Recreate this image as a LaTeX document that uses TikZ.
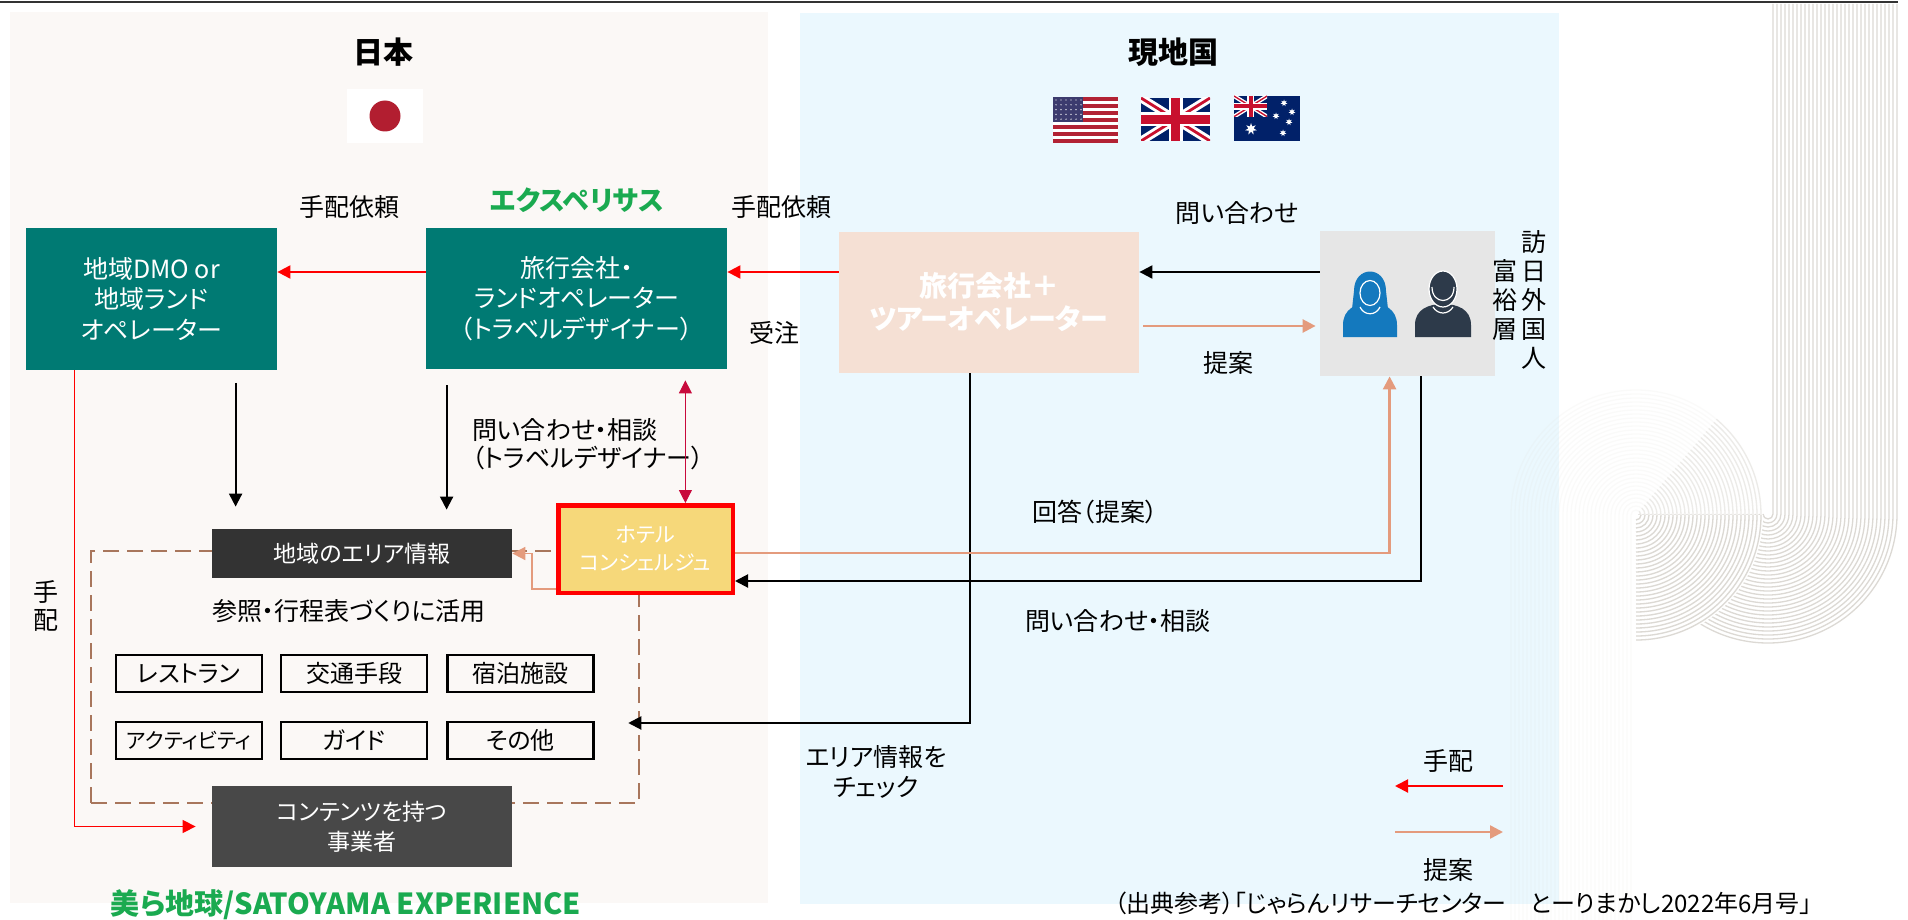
\documentclass[tikz,border=0pt]{standalone}
\usepackage{fontspec}
\setmainfont{Noto Sans CJK JP}[CharacterWidth=AlternateProportional]
\usetikzlibrary{calc, arrows.meta, shapes.geometric}

\definecolor{jpbg}{RGB}{251,248,246}
\definecolor{localbg}{RGB}{235,248,254}
\definecolor{dmoteal}{RGB}{0,122,115}
\definecolor{peach}{RGB}{245,224,212}
\definecolor{guestgray}{RGB}{230,230,230}
\definecolor{hotelyel}{RGB}{246,216,122}
\definecolor{infodark}{RGB}{51,51,51}
\definecolor{contentdark}{RGB}{72,72,72}
\definecolor{salmon}{RGB}{228,155,125}
\definecolor{poolbrown}{RGB}{168,118,92}
\definecolor{crimson}{RGB}{200,10,60}
\definecolor{leafgreen}{RGB}{26,170,80}
\definecolor{jpred}{RGB}{178,30,48}
\definecolor{usred}{RGB}{178,34,52}
\definecolor{usblue}{RGB}{60,59,110}
\definecolor{ukblue}{RGB}{1,33,105}
\definecolor{ukred}{RGB}{200,16,46}
\definecolor{ladyblue}{RGB}{20,121,190}
\definecolor{mandark}{RGB}{45,58,74}
\definecolor{curl}{RGB}{220,217,212}

\begin{document}
\begin{tikzpicture}[x=0.5pt, y=-0.5pt,
                >={Triangle[length=6.5pt, width=6.5pt]},
                box/.style = {
                    rectangle, inner sep=0pt,
                    align=center, text=white,
                    font=\fontsize{12.5}{15.25}\selectfont
                },
                tealbox/.style = {
                    box, fill=dmoteal,
                    minimum height=70.5pt
                },
                tag/.style = {
                    rectangle, draw=black,
                    line width=1.25pt, inner sep=0pt,
                    minimum width=73pt, minimum height=18.5pt,
                    font=\fontsize{12}{14}\selectfont
                },
                pool/.style = {
                    rectangle, draw=poolbrown,
                    line width=1.25pt, dash pattern=on 8pt off 4pt,
                    minimum width=274pt, minimum height=126pt
                },
                lbl/.style = {
                    inner sep=0pt, align=center,
                    font=\fontsize{12.5}{15}\selectfont
                },
                title/.style = {
                    inner sep=0pt,
                    font=\fontsize{15}{18}\selectfont\bfseries
                },
                brand/.style = {
                    inner sep=0pt, text=leafgreen,
                    font=\fontsize{13.5}{16}\selectfont\bfseries
                },
                austar/.style = {
                    star, star points=7, star point ratio=2.2,
                    fill=white, inner sep=0pt, minimum size=3.5pt
                },
                hand/.style = {draw=red, line width=1pt, ->},
                prop/.style = {draw=salmon, line width=1.25pt, ->},
                ask/.style = {draw=black, line width=1pt, ->},
                pics/jack/.style = {code={
                    \fill[ukblue] (0,0) rectangle (69*#1,43*#1);
                    \clip (0,0) rectangle (69*#1,43*#1);
                    \draw[white, line width=#1*4.3pt] (0,0) -- (69*#1,43*#1) (0,43*#1) -- (69*#1,0);
                    \draw[ukred, line width=#1*1.4pt] (0,0) -- (69*#1,43*#1) (0,43*#1) -- (69*#1,0);
                    \draw[white, line width=#1*7pt] (34.5*#1,0) -- (34.5*#1,43*#1) (0,21.5*#1) -- (69*#1,21.5*#1);
                    \draw[ukred, line width=#1*4.3pt] (34.5*#1,0) -- (34.5*#1,43*#1) (0,21.5*#1) -- (69*#1,21.5*#1);
                }},
                pics/lady/.style = {code={
                    \fill[ladyblue] (-27,34) -- (-27,22) .. controls (-27,6) and (-14,0) .. (0,0)
                        .. controls (14,0) and (27,6) .. (27,22) -- (27,34) -- cycle;
                    \fill[ladyblue] (-16,-12) .. controls (-16,-38) and (16,-38) .. (16,-12)
                        -- (18,6) -- (-18,6) -- cycle;
                    \filldraw[fill=ladyblue, draw=white, line width=.6pt] (0,-10) ellipse (10 and 12.5);
                    \draw[white, line width=.6pt] (-10,4) .. controls (-6,13) and (6,13) .. (10,4);
                }},
                pics/gent/.style = {code={
                    \fill[mandark] (-28,34) -- (-28,22) .. controls (-28,6) and (-14,1) .. (0,1)
                        .. controls (14,1) and (28,6) .. (28,22) -- (28,34) -- cycle;
                    \filldraw[fill=mandark, draw=white, line width=.6pt] (0,-14) ellipse (14 and 18);
                    \draw[white, line width=.6pt] (-11,-16) .. controls (-11,2) and (11,2) .. (11,-16);
                    \draw[white, line width=.6pt] (-10,4) .. controls (-5,12) and (5,12) .. (10,4);
                }}
                ]

                \useasboundingbox (0,0) rectangle (1908,920);
                \fill[white] (0,0) rectangle (1908,920);

                % the two halves
                \fill[jpbg] (10,12) rectangle (768,903);
                \fill[localbg] (800,13) rectangle (1559,904);
                \draw[black!80, line width=1pt] (0,2) -- (1898,2);

                % wave ornament
                \foreach \r in {5,9,...,129}
                    \draw[curl, line width=.65pt] (1768+\r,4) -- (1768+\r,514) arc (0:180:\r);
                \fill[white] (1636,515) -- (1763,515) arc (0:90:127) -- cycle;
                \foreach \r in {5,9,...,125} {
                    \draw[curl, line width=.65pt, draw opacity=.12] (1636,515+\r) arc (90:-180:\r) -- (1636-\r,920);
                    \draw[curl, line width=.65pt] (1636,515+\r) arc (90:0:\r);
                    \draw[curl, line width=.65pt, draw opacity=.45] (1636+\r,515) arc (0:-50:\r);
                }

                % flags
                \fill[white] (347,89) rectangle (423,143);
                \fill[jpred] (385,116) circle (15.5);

                \fill[white] (1053,97) rectangle (1118,143);
                \foreach \i in {0,2,...,12}
                    \fill[usred] (1053,97+\i*46/13) rectangle (1118,97+\i*46/13+46/13);
                \fill[usblue] (1053,97) rectangle (1083,121.8);
                \foreach \i in {0,...,5}
                    \foreach \j in {0,...,4}
                        \fill[white] (1056+\i*5,100+\j*4.8) circle (0.7);

                \pic at (1141,98) {jack=1};

                \fill[ukblue] (1234,96) rectangle (1300,141);
                \pic at (1234,96) {jack=0.48};
                \node[austar, minimum size=6pt] (bigstar) at (1251,129) {};
                \foreach \x/\y [count=\k] in {1284/103, 1292/112, 1276/116, 1289/122, 1283/133}
                    \node[austar] (star\k) at (\x,\y) {};

                % titles
                \node[title] (jp) at (383,52) {日本};
                \node[title] (local) at (1173,52) {現地国};
                \node[brand] (xperi) at (577,200) {エクスペリサス};
                \node[brand, font=\fontsize{14.5}{16}\selectfont\bfseries] (satoyama) at (346,905) {美ら地球/SATOYAMA EXPERIENCE};

                % players
                \node[tealbox, minimum width=125.5pt] (dmo) at (151.5,299) {地域DMO or\\地域ランド\\オペレーター};
                \node[tealbox, minimum width=150.5pt] (travel) at (576.5,298.5) {旅行会社・\\ランドオペレーター\\（トラベルデザイナー）};
                \node[box, fill=peach, minimum width=150pt, minimum height=70.5pt,
                      font=\fontsize{14}{16.5}\selectfont\bfseries] (tourop) at (989,302.5) {旅行会社＋\\ツアーオペレーター};
                \node[box, fill=guestgray, minimum width=87.5pt, minimum height=72.5pt] (guests) at (1407.5,303.5) {};
                \pic at (1370,303) {lady};
                \pic at (1443,303) {gent};

                % local content pool
                \node[pool] (pool) at (365,677) {};
                \node[box, fill=infodark, minimum width=150pt, minimum height=24.5pt,
                      font=\fontsize{11.5}{14}\selectfont] (area) at (362,553.5) {地域のエリア情報};
                \node[box, fill=contentdark, minimum width=150pt, minimum height=40.5pt,
                      font=\fontsize{11.5}{15}\selectfont] (content) at (362,826.5) {コンテンツを持つ\\事業者};
                \node[box, fill=hotelyel, draw=red, line width=2.25pt,
                      minimum width=87.25pt, minimum height=43.75pt,
                      font=\fontsize{10.5}{14}\selectfont] (hotel) at (645.5,549) {ホテル\\コンシェルジュ};

                \node[tag] (rest) at (189,673.5) {レストラン};
                \node[tag] (trans) at (354,673.5) {交通手段};
                \node[tag] (stay) at (520.5,673.5) {宿泊施設};
                \node[tag, font=\fontsize{10.5}{13}\selectfont] (act) at (189,740.5) {アクティビティ};
                \node[tag] (guide) at (354,740.5) {ガイド};
                \node[tag] (other) at (520.5,740.5) {その他};

                % labels
                \node[lbl] (req1) at (349,207) {手配依頼};
                \node[lbl] (req2) at (781,207) {手配依頼};
                \node[lbl] (order) at (774,333) {受注};
                \node[lbl] (askq) at (1237,213) {問い合わせ};
                \node[lbl] (offer) at (1228,363) {提案};
                \node[lbl] (consult) at (565,430) {問い合わせ・相談};
                \node[lbl] (designer) at (588,458) {（トラベルデザイナー）};
                \node[lbl] (use) at (349,611) {参照・行程表づくりに活用};
                \node[lbl, font=\fontsize{12.5}{14}\selectfont] (arrange) at (46,606) {手\\配};
                \node[lbl] (answer) at (1095,512) {回答（提案）};
                \node[lbl] (consult2) at (1118,621) {問い合わせ・相談};
                \node[lbl] (check) at (876,772) {エリア情報を\\チェック};
                \node[lbl, font=\fontsize{12.5}{14.5}\selectfont] (visitors) at (1534,300) {訪\\日\\外\\国\\人};
                \node[lbl, font=\fontsize{12.5}{14.5}\selectfont] (wealthy) at (1505,300) {富\\裕\\層};
                \node[lbl] (keyhand) at (1448,761) {手配};
                \node[lbl] (keyprop) at (1448,870) {提案};
                \node[lbl, font=\fontsize{12}{14}\selectfont] (source) at (1463,903) {（出典参考）「じゃらんリサーチセンター　とーりまかし2022年6月号」};

                % requests and offers along the top row
                \path[hand] ([yshift=13.25pt]travel.west) -- ([yshift=13.25pt]travel.west -| dmo.east);
                \path[hand] ([yshift=15.25pt]tourop.west) -- ([yshift=15.25pt]tourop.west -| travel.east);
                \path[ask] ([yshift=15.75pt]guests.west) -- ([yshift=15.75pt]guests.west -| tourop.east);
                \path[prop, shorten <=2pt, shorten >=2pt] ([yshift=-11.75pt]tourop.east) -- ([yshift=-11.75pt]tourop.east -| guests.west);

                % info flowing down
                \path[ask, shorten <=6.5pt, shorten >=11pt] ([xshift=12pt]area.north west |- dmo.south) -- ([xshift=12pt]area.north west);
                \path[ask, shorten <=8pt, shorten >=9.5pt] ([xshift=10.5pt]travel.south west) -- ([xshift=10.5pt]travel.south west |- area.north);
                \draw[<->, crimson, line width=.5pt, shorten <=5.5pt] ([xshift=-21pt]travel.south east) -- ([xshift=-21pt]travel.south east |- hotel.north);
                \path[hand, line width=.7pt, shorten >=8pt] ([xshift=24.5pt]dmo.south west) |- (content.west);

                % hotel and guests
                \coordinate (chk) at ([xshift=-6pt, yshift=-23pt]pool.east);
                \path[ask] ([xshift=65.5pt]tourop.south west) |- (chk);
                \path[ask] ([xshift=50.5pt]guests.south west) |- ([yshift=-16pt]hotel.east);
                \path[prop] ([yshift=-2pt]hotel.east) -| ([xshift=35pt]guests.south west);
                \path[prop, line width=.9pt] ([yshift=-20pt]hotel.west) -- ++(-12pt,0) |- (area.east);

                % key
                \coordinate (kh1) at (1503,786);
                \coordinate (kh2) at (1395,786);
                \coordinate (kp1) at (1395,832);
                \coordinate (kp2) at (1503,832);
                \path[hand] (kh1) -- (kh2);
                \path[prop] (kp1) -- (kp2);
            \end{tikzpicture}
\end{document}
